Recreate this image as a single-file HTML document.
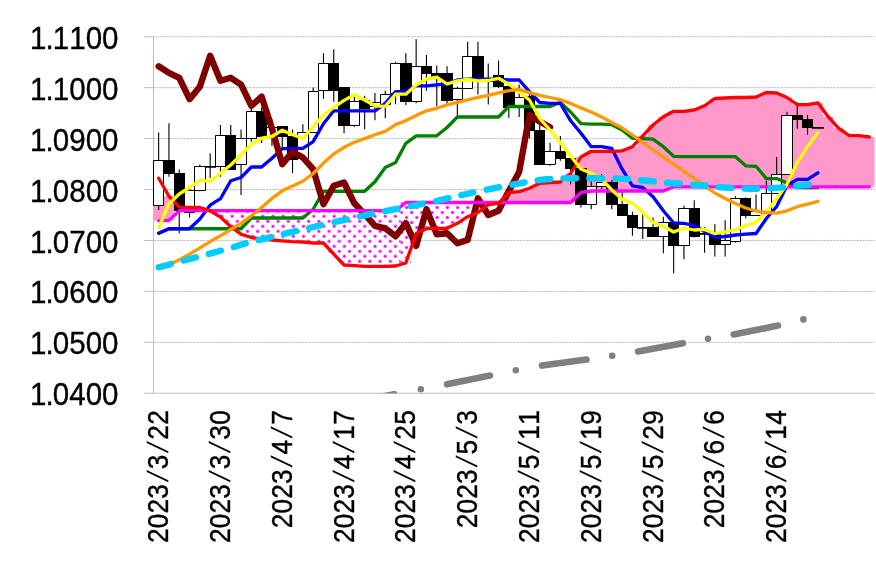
<!DOCTYPE html>
<html lang="ja"><head><meta charset="utf-8"><title>chart</title><style>
html,body{margin:0;padding:0;background:#fff}
body{width:876px;height:568px;position:relative;overflow:hidden;font-family:"Liberation Sans",sans-serif;color:#000;font-kerning:none;font-variant-ligatures:none;-webkit-text-stroke:0.35px #000}
.yl{position:absolute;right:757.5px;width:130px;text-align:right;font-size:29.5px;line-height:29.5px;height:29.5px;white-space:nowrap;transform:scaleY(1.08);transform-origin:100% 50%}
.p{display:inline-block;margin:0 -0.95px}
.xl{position:absolute;top:397.2px;height:26.2px;line-height:26.2px;font-size:26.2px;white-space:nowrap;letter-spacing:0.2px;transform:rotate(-90deg) scaleY(1.12);transform-origin:100% 50%}
.s{display:inline-block;-webkit-text-stroke:0;transform:skewX(-14.7deg);margin:0 3.65px}
</style></head><body>
<svg width="876" height="568" viewBox="0 0 876 568" style="position:absolute;left:0;top:0">
<defs>
<pattern id="dots" patternUnits="userSpaceOnUse" x="306.1" y="228.75" width="10.2" height="10">
<rect width="10.2" height="10" fill="#fff"/>
<circle cx="2.55" cy="2.5" r="1.6" fill="#ff00ff"/>
<circle cx="7.65" cy="7.5" r="1.6" fill="#ff00ff"/>
</pattern>
<pattern id="dotsB" patternUnits="userSpaceOnUse" x="307.1" y="229.95" width="10.2" height="10">
<rect width="10.2" height="10" fill="#fff"/>
<circle cx="2.55" cy="2.5" r="1.6" fill="#ff00ff"/>
<circle cx="7.65" cy="7.5" r="1.6" fill="#ff00ff"/>
</pattern>
<clipPath id="plot"><rect x="153.5" y="0" width="721.3" height="393.25"/></clipPath>
</defs>
<g stroke="#999" stroke-width="0.65" stroke-dasharray="2.4 0.9" fill="none">
<line x1="153.5" y1="36.75" x2="874.5" y2="36.75"/>
<line x1="153.5" y1="87.68" x2="874.5" y2="87.68"/>
<line x1="153.5" y1="138.61" x2="874.5" y2="138.61"/>
<line x1="153.5" y1="189.54" x2="874.5" y2="189.54"/>
<line x1="153.5" y1="240.46" x2="874.5" y2="240.46"/>
<line x1="153.5" y1="291.39" x2="874.5" y2="291.39"/>
<line x1="153.5" y1="342.32" x2="874.5" y2="342.32"/>
</g>
<path d="M205 210.7H215.35V210.8H205ZM215.3 210.7H225.65V217H215.3ZM225.6 210.7H235.95V226.7H225.6ZM235.9 210.7H246.25V234.2H235.9ZM246.2 210.7H256.55V237.5H246.2ZM256.5 210.7H266.85V239.2H256.5ZM266.8 210.7H277.15V240H266.8ZM277.1 210.7H287.45V240.8H277.1ZM287.4 210.7H297.75V241.7H287.4ZM297.7 210.7H308.05V242H297.7ZM308 210.7H318.35V243H308ZM318.3 210.7H328.65V243H318.3ZM328.6 210.7H338.95V254H328.6ZM338.9 210.7H349.25V265H338.9ZM349.2 210.7H359.55V265.7H349.2ZM359.5 210.7H369.85V266.3H359.5ZM369.8 210.7H380.15V266.3H369.8ZM380.1 210.7H390.45V266.3H380.1ZM390.4 210.7H400.75V266H390.4Z" fill="url(#dots)"/>
<path d="M400.7 202.5H411.05V263H400.7ZM411 202.5H421.35V233.5H411ZM421.3 202.5H431.65V228.7H421.3ZM431.6 202.5H441.95V228.3H431.6ZM441.9 202.5H452.25V228.3H441.9ZM452.2 202.5H462.55V223.3H452.2ZM462.5 202.5H472.85V216.7H462.5ZM472.8 202.5H483.15V212.5H472.8ZM483.1 202.5H493.45V204.7H483.1ZM493.4 202.5H503.75V203.3H493.4Z" fill="url(#dotsB)"/>
<path d="M153.5 178.3H163.85V220.8H153.5ZM163.8 196.25H174.15V220.4H163.8ZM174.1 207.1H184.45V210.7H174.1ZM184.4 207.5H194.75V210.7H184.4ZM194.7 207.5H205.05V210.7H194.7ZM503.7 192.5H514.05V202.5H503.7ZM514 191.7H524.35V202.5H514ZM524.3 188.3H534.65V202.5H524.3ZM534.6 183.3H544.95V202.5H534.6ZM544.9 182.5H555.25V202.5H544.9ZM555.2 182H565.55V202.5H555.2ZM565.5 173.5H575.85V202.5H565.5ZM575.8 157H586.15V192.4H575.8ZM586.1 151.3H596.45V191H586.1ZM596.4 151.3H606.75V191H596.4ZM606.7 151.3H617.05V191H606.7ZM617 150.8H627.35V191H617ZM627.3 146.7H637.65V191H627.3ZM637.6 135.8H647.95V191H637.6ZM647.9 125H658.25V191H647.9ZM658.2 116.7H668.55V191H658.2ZM668.5 111.3H678.85V186.8H668.5ZM678.8 111.3H689.15V186.8H678.8ZM689.1 110H699.45V186.8H689.1ZM699.4 105.8H709.75V186.8H699.4ZM709.7 98.5H720.05V186.8H709.7ZM720 98H730.35V186.8H720ZM730.3 97.5H740.65V186.8H730.3ZM740.6 97.5H750.95V186.8H740.6ZM750.9 97H761.25V186.8H750.9ZM761.2 92.5H771.55V186.8H761.2ZM771.5 93H781.85V186.8H771.5ZM781.8 97.5H792.15V186.8H781.8ZM792.1 104.7H802.45V186.8H792.1ZM802.4 104.7H812.75V186.8H802.4ZM812.7 102.8H823.05V186.8H812.7ZM823 116.7H833.35V186.8H823ZM833.3 128.2H843.65V186.8H833.3ZM843.6 135.3H853.95V186.8H843.6ZM853.9 135.6H864.25V186.8H853.9ZM864.2 137H874.55V186.8H864.2Z" fill="#ff99cc"/>
<g stroke="#bdbdbd" stroke-width="1" fill="none">
<line x1="153.5" y1="36.75" x2="153.5" y2="393.25"/>
<line x1="144" y1="393.25" x2="874.5" y2="393.25"/>
<line x1="144" y1="36.75" x2="153.5" y2="36.75"/>
<line x1="144" y1="87.68" x2="153.5" y2="87.68"/>
<line x1="144" y1="138.61" x2="153.5" y2="138.61"/>
<line x1="144" y1="189.54" x2="153.5" y2="189.54"/>
<line x1="144" y1="240.46" x2="153.5" y2="240.46"/>
<line x1="144" y1="291.39" x2="153.5" y2="291.39"/>
<line x1="144" y1="342.32" x2="153.5" y2="342.32"/>
</g>
<path d="M158.65 132.5V210M168.95 123.3V176.7M179.25 169.5V233.3M189.55 188V217.5M199.85 164.6V191.3M210.15 153.3V178M220.45 125V176.7M230.75 125V170M241.05 129.6V195M251.35 104V141.7M261.65 107.5V143M271.95 119V146M282.25 126.3V147.5M292.55 129.6V173.3M302.85 124.2V159M313.15 87.5V132.5M323.45 53.3V98.7M333.75 49.2V101.7M344.05 87V133.3M354.35 96.7V126.7M364.65 95.8V129.2M374.95 93V120.3M385.25 90.8V118.3M395.55 61.7V104.2M405.85 53.3V105M416.15 39.2V103.3M426.45 55V90.8M436.75 65.4V106.2M447.05 66.2V103.7M457.35 86.4V116.4M467.65 41.7V88.4M477.95 41.7V94.6M488.25 63.4V104.6M498.55 60.4V87.9M508.85 85.4V117.7M519.15 84.6V117.1M529.45 92.5V138.5M539.75 124.2V165M550.05 142.8V165.8M560.35 136V160.8M570.65 156V184.5M580.95 167V207.5M591.25 180.8V209.2M601.55 174.2V189M611.85 180V209.2M622.15 189.7V216M632.45 211.7V235.8M642.75 214.2V239M653.05 217.5V237M663.35 216.7V253.3M673.65 221V273.3M683.95 205.8V259.2M694.25 200.3V237.6M704.55 227V252.8M714.85 224V256.6M725.15 220.2V256.6M735.45 196.3V242.8M745.75 197.5V218.3M756.05 194.6V216M766.35 180.8V213M776.65 157.1V194M786.95 111.8V175M797.25 102.5V128.8M807.55 115V134.8M817.85 127.2V128.2" stroke="#000" stroke-width="1.1" fill="none"/>
<path d="M153.5 160.5H163.5V205.5H153.5ZM184.5 190.5H194.5V212.5H184.5ZM194.5 166.5H205.5V190.5H194.5ZM215.5 135.5H225.5V166.5H215.5ZM235.5 138.5H246.5V164.5H235.5ZM246.5 111.5H256.5V138.5H246.5ZM266.5 127.5H277.5V136.5H266.5ZM297.5 132.5H308.5V158.5H297.5ZM308.5 91.5H318.5V132.5H308.5ZM318.5 63.5H328.5V90.5H318.5ZM349.5 101.5H359.5V125.5H349.5ZM369.5 102.5H380.5V106.5H369.5ZM380.5 94.5H390.5V104.5H380.5ZM390.5 63.5H400.5V93.5H390.5ZM411.5 66.5H421.5V101.5H411.5ZM452.5 88.5H462.5V99.5H452.5ZM462.5 56.5H472.5V88.5H462.5ZM483.5 78.5H493.5V81.5H483.5ZM514.5 97.5H524.5V107.5H514.5ZM544.5 151.5H555.5V164.5H544.5ZM586.5 186.5H596.5V204.5H586.5ZM596.5 182.5H606.5V186.5H596.5ZM658.5 222.5H668.5V236.5H658.5ZM678.5 208.5H689.5V245.5H678.5ZM720.5 240.5H730.5V244.5H720.5ZM730.5 198.5H740.5V241.5H730.5ZM750.5 211.5H761.5V215.5H750.5ZM761.5 193.5H771.5V212.5H761.5ZM771.5 174.5H781.5V193.5H771.5ZM781.5 115.5H792.5V174.5H781.5Z" fill="#fff" stroke="#000" stroke-width="1"/>
<path d="M163 160H175V174H163ZM174 173H185V211H174ZM205 166H216V167.7H205ZM225 135H236V170H225ZM256 111H267V137H256ZM277 126H288V137H277ZM287 136H298V160H287ZM328 63H339V91H328ZM338 87H350V126H338ZM359 100H370V109H359ZM400 63H412V102H400ZM421 66H432V74H421ZM431 73H442V78H431ZM441 73H453V101H441ZM472 56H484V82H472ZM493 75H504V87H493ZM503 86H515V108H503ZM524 96H535V131H524ZM534 130H545V165H534ZM555 151H566V159H555ZM565 158H576V169H565ZM575 168H587V205H575ZM606 182H618V205H606ZM617 204H628V216H617ZM627 215H638V228H627ZM637 227H648V228.7H637ZM647 227H659V237H647ZM668 222H679V246H668ZM689 208H700V237H689ZM699 233H710V234.7H699ZM709 234H721V245H709ZM740 198H751V216H740ZM792 115H803V120H792ZM802 119H813V128H802ZM812 127H824V128.7H812Z" fill="#000"/>
<polyline points="158.65,233.2 168.95,228.75 179.25,228.75 189.55,228.75 199.85,228.75 210.15,228.75 220.45,228.75 230.75,228.75 241.05,228.75 251.35,218 261.65,218 271.95,218 282.25,218 292.55,218 302.85,218 313.15,209.2 323.45,191.3 333.75,191.3 344.05,191.3 354.35,191.3 364.65,191.3 374.95,181.7 385.25,167.5 395.55,162.5 405.85,143.3 416.15,135.8 426.45,135.8 436.75,135.8 447.05,127.5 457.35,117 467.65,117 477.95,117 488.25,117 498.55,117 508.85,106.5 519.15,106.5 529.45,106.5 539.75,106.5 550.05,106.5 560.35,102.5 570.65,112 580.95,123.7 591.25,124.2 601.55,124.2 611.85,124.7 622.15,130 632.45,138.3 642.75,138.7 653.05,139.2 663.35,146.7 673.65,156.3 683.95,156.7 694.25,156.7 704.55,156.7 714.85,156.7 725.15,156.7 735.45,156.7 745.75,165.8 756.05,166.3 766.35,178.6 776.65,178.6 786.95,183 797.25,187.7 807.55,187.7 817.85,187.7" fill="none" stroke="#008000" stroke-width="3.3" stroke-linejoin="round" stroke-linecap="round"/>
<polyline points="158.65,233.2 168.95,228.75 179.25,228.75 189.55,228.75 199.85,219 210.15,205.2 220.45,198.7 230.75,180.8 241.05,177.5 251.35,167 261.65,167 271.95,158.3 282.25,148.7 292.55,148.3 302.85,148.3 313.15,141.6 323.45,123.7 333.75,110.8 344.05,110.8 354.35,110.8 364.65,110.8 374.95,110.8 385.25,103.3 395.55,91.7 405.85,91.7 416.15,85.8 426.45,85.8 436.75,84.8 447.05,83.8 457.35,80 467.65,79.1 477.95,78.8 488.25,79.1 498.55,79.1 508.85,80 519.15,80 529.45,91.7 539.75,102.5 550.05,103.3 560.35,103.3 570.65,120.8 580.95,133.3 591.25,146.7 601.55,146.7 611.85,148.5 622.15,169.2 632.45,185.8 642.75,187.5 653.05,196.7 663.35,210.8 673.65,223 683.95,223.3 694.25,225.5 704.55,231.5 714.85,237.3 725.15,236.5 735.45,235 745.75,234.2 756.05,233.5 766.35,218.5 776.65,206.5 786.95,185.5 797.25,179.4 807.55,179.4 817.85,172.8" fill="none" stroke="#0000ff" stroke-width="3.3" stroke-linejoin="round" stroke-linecap="round"/>
<polyline points="158.65,66.3 168.95,72.9 179.25,77.9 189.55,99.2 199.85,86.7 210.15,55.8 220.45,80.8 230.75,77.8 241.05,84.7 251.35,105.8 261.65,96.7 271.95,128.5 282.25,164.2 292.55,151.7 302.85,157.5 313.15,169.2 323.45,204.2 333.75,185.8 344.05,182.5 354.35,203.3 364.65,214.2 374.95,225.8 385.25,228.3 395.55,236.3 405.85,223.2 416.15,245.8 426.45,209.3 436.75,234.2 447.05,233.3 457.35,243.3 467.65,240 477.95,198.3 488.25,215 498.55,210.8 508.85,191 519.15,172 529.45,115 539.75,121.5 550.05,127.3" fill="none" stroke="#800000" stroke-width="6.4" stroke-linejoin="round" stroke-linecap="round"/>
<polyline points="158.65,220.8 168.95,220.4 179.25,210.7 189.55,210.7 199.85,210.7 210.15,210.7 220.45,210.7 230.75,210.7 241.05,210.7 251.35,210.7 261.65,210.7 271.95,210.7 282.25,210.7 292.55,210.7 302.85,210.7 313.15,210.7 323.45,210.7 333.75,210.7 344.05,210.7 354.35,210.7 364.65,210.7 374.95,210.7 385.25,210.7 395.55,210.7 405.85,202.5 416.15,202.5 426.45,202.5 436.75,202.5 447.05,202.5 457.35,202.5 467.65,202.5 477.95,202.5 488.25,202.5 498.55,202.5 508.85,202.5 519.15,202.5 529.45,202.5 539.75,202.5 550.05,202.5 560.35,202.5 570.65,202.5 580.95,192.4 591.25,191 601.55,191 611.85,191 622.15,191 632.45,191 642.75,191 653.05,191 663.35,191 673.65,186.8 683.95,186.8 694.25,186.8 704.55,186.8 714.85,186.8 725.15,186.8 735.45,186.8 745.75,186.8 756.05,186.8 766.35,186.8 776.65,186.8 786.95,186.8 797.25,186.8 807.55,186.8 817.85,186.8 828.15,186.8 838.45,186.8 848.75,186.8 859.05,186.8 869.35,186.8" fill="none" stroke="#ff00ff" stroke-width="3.3" stroke-linejoin="round" stroke-linecap="round"/>
<polyline points="158.65,178.3 168.95,196.25 179.25,207.1 189.55,207.5 199.85,207.5 210.15,210.8 220.45,217 230.75,226.7 241.05,234.2 251.35,237.5 261.65,239.2 271.95,240 282.25,240.8 292.55,241.7 302.85,242 313.15,243 323.45,243 333.75,254 344.05,265 354.35,265.7 364.65,266.3 374.95,266.3 385.25,266.3 395.55,266 405.85,263 416.15,233.5 426.45,228.7 436.75,228.3 447.05,228.3 457.35,223.3 467.65,216.7 477.95,212.5 488.25,204.7 498.55,203.3 508.85,192.5 519.15,191.7 529.45,188.3 539.75,183.3 550.05,182.5 560.35,182 570.65,173.5 580.95,157 591.25,151.3 601.55,151.3 611.85,151.3 622.15,150.8 632.45,146.7 642.75,135.8 653.05,125 663.35,116.7 673.65,111.3 683.95,111.3 694.25,110 704.55,105.8 714.85,98.5 725.15,98 735.45,97.5 745.75,97.5 756.05,97 766.35,92.5 776.65,93 786.95,97.5 797.25,104.7 807.55,104.7 817.85,102.8 828.15,116.7 838.45,128.2 848.75,135.3 859.05,135.6 869.35,137" fill="none" stroke="#ff0000" stroke-width="3.3" stroke-linejoin="round" stroke-linecap="round"/>
<polyline points="158.65,227.9 168.95,203.75 179.25,194 189.55,187.5 199.85,180.4 210.15,181.2 220.45,173.3 230.75,165 241.05,155 251.35,144.2 261.65,138.2 271.95,136.5 282.25,130.2 292.55,134.8 302.85,138.3 313.15,127 323.45,115.2 333.75,107.4 344.05,100.4 354.35,94.7 364.65,100 374.95,105.8 385.25,106.3 395.55,94.2 405.85,94.2 416.15,85 426.45,79.2 436.75,77.1 447.05,84 457.35,80.8 467.65,79.5 477.95,80.8 488.25,80.5 498.55,78.3 508.85,84.1 519.15,91.6 529.45,100 539.75,118.5 550.05,130 560.35,142.5 570.65,156 580.95,169 591.25,173.3 601.55,179.2 611.85,190 622.15,199.2 632.45,203.3 642.75,212.5 653.05,222.5 663.35,226.3 673.65,232 683.95,228 694.25,230 704.55,229.4 714.85,233.7 725.15,232 735.45,229.5 745.75,225.8 756.05,222 766.35,211.5 776.65,199 786.95,184.4 797.25,162.5 807.55,146.7 817.85,132.6" fill="none" stroke="#ffff00" stroke-width="3.3" stroke-linejoin="round" stroke-linecap="round"/>
<polyline points="158.65,267.6 168.95,264.7 179.25,259.8 189.55,254.1 199.85,247.8 210.15,241.6 220.45,235.8 230.75,229.5 241.05,223.3 251.35,215.8 261.65,207.5 271.95,198.4 282.25,190.8 292.55,186 302.85,181.2 313.15,173.5 323.45,163.1 333.75,153.9 344.05,147.3 354.35,142.3 364.65,138.6 374.95,134.8 385.25,131.4 395.55,124.6 405.85,120.6 416.15,115.6 426.45,110.8 436.75,108.3 447.05,104.9 457.35,102.4 467.65,99.9 477.95,97.4 488.25,95.3 498.55,92.9 508.85,90.6 519.15,89.5 529.45,92.7 539.75,95.3 550.05,97.5 560.35,99.7 570.65,103.4 580.95,107.9 591.25,112 601.55,116.9 611.85,122.5 622.15,127.9 632.45,135 642.75,142.5 653.05,150 663.35,157.2 673.65,164.2 683.95,171.5 694.25,178.3 704.55,186 714.85,193 725.15,198.5 735.45,203.5 745.75,208 756.05,211 766.35,212.6 776.65,213.2 786.95,210.8 797.25,206.7 807.55,204.2 817.85,201.3" fill="none" stroke="#ff9900" stroke-width="3.3" stroke-linejoin="round" stroke-linecap="round"/>
<path d="M158.65 267.3 C162.88 266.17 175.61 262.73 184 260.5 C192.39 258.27 200.67 256.15 209 253.9 C217.33 251.65 227.83 248.78 234 247 C240.17 245.22 235.83 245.82 246 243.2 C256.17 240.58 275.17 235.95 295 231.3 C314.83 226.65 342 220.23 365 215.3 C388 210.37 415.22 205.45 433 201.7 C450.78 197.95 457.53 195.8 471.7 192.8 C485.87 189.8 505.5 185.95 518 183.7 C530.5 181.45 537.53 180.2 546.7 179.3 C555.87 178.4 560.78 178.42 573 178.3 C585.22 178.18 607.72 178.18 620 178.6 C632.28 179.02 637.87 180.02 646.7 180.8 C655.53 181.58 664.12 182.57 673 183.3 C681.88 184.03 691.33 184.5 700 185.2 C708.67 185.9 716.67 186.92 725 187.5 C733.33 188.08 741.5 188.62 750 188.7 C758.5 188.78 767.33 188.55 776 188 C784.67 187.45 796.5 185.97 802 185.4 C807.5 184.83 807.83 184.73 809 184.6" fill="none" stroke="#00ccff" stroke-width="6.4" stroke-linecap="round" stroke-dasharray="12.55 13.39" stroke-dashoffset="0"/>
<g clip-path="url(#plot)">
<path d="M350 403L394.1 394.2M447 384.3L490 375.5M542 365.6L586.4 359.6M638 351.6L682.9 343.2M733.6 334.4L778 325.6M420.8 389.3h0.01M515.8 370.3h0.01M612.2 355.7h0.01M708 338.8h0.01M803.4 319.4h0.01" fill="none" stroke="#808080" stroke-width="6.6" stroke-linecap="round"/>
</g>
</svg>
<div class="yl" style="top:22.85px">1<span class="p">.</span>1100</div>
<div class="yl" style="top:73.78px">1<span class="p">.</span>1000</div>
<div class="yl" style="top:124.71px">1<span class="p">.</span>0900</div>
<div class="yl" style="top:175.64px">1<span class="p">.</span>0800</div>
<div class="yl" style="top:226.56px">1<span class="p">.</span>0700</div>
<div class="yl" style="top:277.49px">1<span class="p">.</span>0600</div>
<div class="yl" style="top:328.42px">1<span class="p">.</span>0500</div>
<div class="yl" style="top:379.35px">1<span class="p">.</span>0400</div>
<div class="xl" style="right:717.85px">2023<span class="s">/</span>3<span class="s">/</span>22</div>
<div class="xl" style="right:656.05px">2023<span class="s">/</span>3<span class="s">/</span>30</div>
<div class="xl" style="right:594.25px">2023<span class="s">/</span>4<span class="s">/</span>7</div>
<div class="xl" style="right:532.45px">2023<span class="s">/</span>4<span class="s">/</span>17</div>
<div class="xl" style="right:470.65px">2023<span class="s">/</span>4<span class="s">/</span>25</div>
<div class="xl" style="right:408.85px">2023<span class="s">/</span>5<span class="s">/</span>3</div>
<div class="xl" style="right:347.05px">2023<span class="s">/</span>5<span class="s">/</span>11</div>
<div class="xl" style="right:285.25px">2023<span class="s">/</span>5<span class="s">/</span>19</div>
<div class="xl" style="right:223.45px">2023<span class="s">/</span>5<span class="s">/</span>29</div>
<div class="xl" style="right:161.65px">2023<span class="s">/</span>6<span class="s">/</span>6</div>
<div class="xl" style="right:99.85px">2023<span class="s">/</span>6<span class="s">/</span>14</div>
</body></html>
